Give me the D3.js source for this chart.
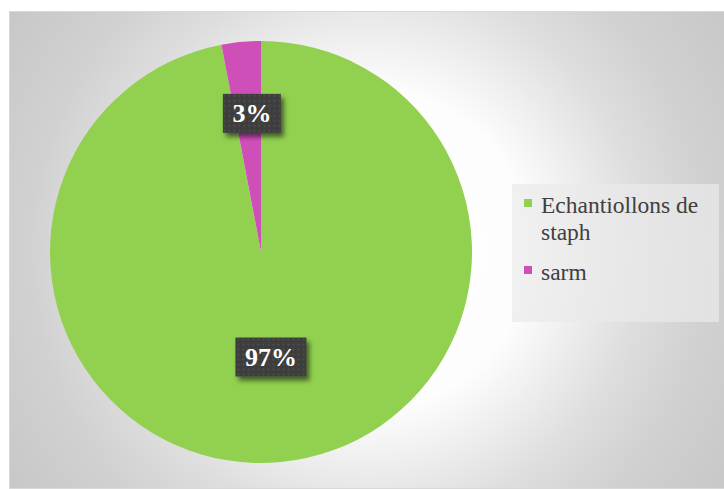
<!DOCTYPE html>
<html>
<head>
<meta charset="utf-8">
<script src="https://cdn.jsdelivr.net/npm/d3@7"></script>
<style>
  html, body { margin: 0; padding: 0; background: #ffffff; }
  svg { display: block; }
</style>
</head>
<body>
<svg id="chart" width="724" height="489"></svg>
<script>
// Sample share by category
const categories = ["Echantiollons de staph", "sarm"];
const values = [97, 3];
const valueLabels = ["97%", "3%"];
const colors = ["#92d050", "#cf4fb9"];

const SERIF = '"Liberation Serif", "Times New Roman", serif';

const svg = d3.select("#chart");
const defs = svg.append("defs");

// Background: radial gradient, bright in the middle, grey towards the edges
const bg = defs.append("radialGradient")
  .attr("id", "bgGrad")
  .attr("gradientUnits", "userSpaceOnUse")
  .attr("cx", 368).attr("cy", 250).attr("r", 470);
[[0, "#ffffff"], [0.34, "#fdfdfd"], [0.58, "#dedede"], [0.72, "#d1d1d1"], [1, "#c3c3c3"]]
  .forEach(([o, c]) => bg.append("stop").attr("offset", o).attr("stop-color", c));

// Dotted texture for the data-label boxes
const pat = defs.append("pattern")
  .attr("id", "dots")
  .attr("patternUnits", "userSpaceOnUse")
  .attr("width", 5).attr("height", 5);
pat.append("rect").attr("width", 5).attr("height", 5).attr("fill", "#3e3e3e");
pat.append("circle").attr("cx", 2.5).attr("cy", 2.5).attr("r", 1).attr("fill", "#4f4f4f");

// Soft shadow under the label boxes
const sh = defs.append("filter").attr("id", "shadow")
  .attr("x", "-30%").attr("y", "-30%").attr("width", "160%").attr("height", "170%");
sh.append("feDropShadow").attr("dx", 3).attr("dy", 4).attr("stdDeviation", 2.5)
  .attr("flood-color", "#000").attr("flood-opacity", 0.55);

// Chart area
svg.append("rect")
  .attr("x", 9.5).attr("y", 11.5)
  .attr("width", 720).attr("height", 477)
  .attr("fill", "url(#bgGrad)")
  .attr("stroke", "#d9d9d9").attr("stroke-width", 1);

// Pie
const cx = 261, cy = 252, R = 211;
const pie = d3.pie().sort(null).value(d => d.value);
const arcs = pie(categories.map((c, i) => ({ name: c, value: values[i], label: valueLabels[i], color: colors[i] })));
const arc = d3.arc().innerRadius(0).outerRadius(R);

const g = svg.append("g").attr("transform", `translate(${cx},${cy})`);
g.selectAll("path.slice")
  .data(arcs)
  .join("path")
  .attr("class", "slice")
  .attr("d", arc)
  .attr("fill", d => d.data.color);

// Data labels: wide slices at mid radius, thin slices further out
const lab = g.selectAll("g.lab")
  .data(arcs)
  .join("g")
  .attr("class", "lab")
  .attr("transform", d => {
    const share = (d.endAngle - d.startAngle) / (2 * Math.PI);
    const rr = share < 0.1 ? R * 0.66 : R * 0.5;
    const c = d3.arc().innerRadius(rr).outerRadius(rr).centroid(d);
    // thin slices: keep the box clear of the slice edge
    const nudge = share < 0.1 ? 4 : 0;
    return `translate(${c[0] + nudge},${c[1]})`;
  });

lab.each(function(d) {
  const sel = d3.select(this);
  const rect = sel.append("rect").attr("fill", "url(#dots)").attr("filter", "url(#shadow)");
  const t = sel.append("text")
    .attr("text-anchor", "middle")
    .attr("dy", "0.35em")
    .attr("font-family", SERIF)
    .attr("font-size", 26)
    .attr("font-weight", "bold")
    .attr("fill", "#ffffff")
    .text(d.data.label);
  const w = t.node().getComputedTextLength() + 19;
  rect.attr("x", -w / 2).attr("y", -19.5).attr("width", w).attr("height", 39);
});

// Legend
const legend = svg.append("g").attr("transform", "translate(512,184)");
legend.append("rect")
  .attr("width", 207).attr("height", 138)
  .attr("fill", "#eaeaea").attr("fill-opacity", 0.7);

const maxTextW = 170;
let yCursor = 29;
categories.forEach((name, i) => {
  const item = legend.append("g");
  const text = item.append("text")
    .attr("x", 29)
    .attr("font-family", SERIF)
    .attr("font-size", 23.5)
    .attr("fill", "#404040");
  // word wrap
  const words = name.split(" ");
  let line = [];
  let tspan = text.append("tspan").attr("x", 29).attr("y", yCursor);
  let lines = 1;
  words.forEach(wd => {
    line.push(wd);
    tspan.text(line.join(" "));
    if (tspan.node().getComputedTextLength() > maxTextW && line.length > 1) {
      line.pop();
      tspan.text(line.join(" "));
      line = [wd];
      tspan = text.append("tspan").attr("x", 29).attr("y", yCursor + lines * 27).text(wd);
      lines++;
    }
  });
  item.append("rect")
    .attr("x", 12).attr("y", yCursor - 14)
    .attr("width", 8).attr("height", 8)
    .attr("fill", colors[i]);
  yCursor += (lines - 1) * 27 + 40;
});
</script>
</body>
</html>
